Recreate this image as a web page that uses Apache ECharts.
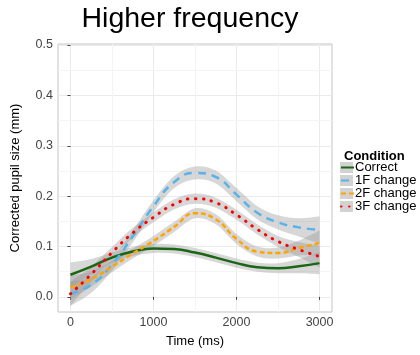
<!DOCTYPE html>
<html>
<head>
<meta charset="utf-8">
<script src="https://cdn.jsdelivr.net/npm/echarts@6/dist/echarts.min.js"></script>
<style>html,body{margin:0;padding:0;background:#fff}#c{width:420px;height:355px}</style>
</head>
<body>
<div id="c"></div>
<script>
// ---- data ----
const time = [0, 250, 500, 750, 1000, 1250, 1500, 1750, 2000, 2250, 2500, 2750, 3000];
const conditions = ['Correct', '1F change', '2F change', '3F change'];
const correctMean = [0.044, 0.060, 0.078, 0.090, 0.096, 0.095, 0.088, 0.078, 0.067, 0.059, 0.057, 0.061, 0.067];
const correctSe   = [0.024, 0.015, 0.010, 0.009, 0.009, 0.009, 0.009, 0.009, 0.009, 0.009, 0.010, 0.014, 0.022];
const f1Mean = [0.006, 0.024, 0.064, 0.120, 0.180, 0.228, 0.246, 0.238, 0.203, 0.167, 0.148, 0.138, 0.133];
const f1Se   = [0.024, 0.016, 0.012, 0.012, 0.012, 0.012, 0.013, 0.013, 0.013, 0.013, 0.014, 0.018, 0.027];
const f2Mean = [0.019, 0.035, 0.060, 0.086, 0.111, 0.139, 0.166, 0.154, 0.115, 0.090, 0.087, 0.097, 0.107];
const f2Se   = [0.024, 0.015, 0.011, 0.010, 0.010, 0.010, 0.010, 0.010, 0.010, 0.010, 0.011, 0.015, 0.025];
const f3Mean = [0.006, 0.045, 0.088, 0.127, 0.158, 0.184, 0.195, 0.187, 0.163, 0.134, 0.110, 0.094, 0.080];
const f3Se   = [0.024, 0.015, 0.011, 0.010, 0.010, 0.010, 0.010, 0.010, 0.010, 0.010, 0.011, 0.015, 0.022];
const xTicks = [0, 1000, 2000, 3000];
const yTicks = [0, 0.1, 0.2, 0.3, 0.4, 0.5];
const xMinor = [500, 1500, 2500];
const yMinor = [0.05, 0.15, 0.25, 0.35, 0.45];

const means = [correctMean, f1Mean, f2Mean, f3Mean];
const ses = [correctSe, f1Se, f2Se, f3Se];
const colors = ['#1b6614', '#56B4E9', '#FFA500', '#FF0000'];
const lineTypes = ['solid', [8, 6], [5, 3], [0.5, 7.5]];
const caps = ['butt', 'butt', 'butt', 'round'];
const widths = [2.5, 2.5, 2.5, 3];

// Catmull-Rom -> cubic bezier path segment through pixel points
function crPath(pts, start) {
  let d = start ? 'M' + pts[0][0] + ' ' + pts[0][1] : 'L' + pts[0][0] + ' ' + pts[0][1];
  for (let i = 0; i < pts.length - 1; i++) {
    const p0 = pts[i - 1] || pts[i], p1 = pts[i], p2 = pts[i + 1], p3 = pts[i + 2] || pts[i + 1];
    const c1 = [p1[0] + (p2[0] - p0[0]) / 6, p1[1] + (p2[1] - p0[1]) / 6];
    const c2 = [p2[0] - (p3[0] - p1[0]) / 6, p2[1] - (p3[1] - p1[1]) / 6];
    d += 'C' + c1[0] + ' ' + c1[1] + ' ' + c2[0] + ' ' + c2[1] + ' ' + p2[0] + ' ' + p2[1];
  }
  return d;
}

const series = [];
// minor grid lines (drawn underneath everything)
series.push({
  name: '_grid', type: 'line', data: [], silent: true, z: 0,
  markLine: {
    silent: true, symbol: 'none', label: { show: false }, animation: false, z: 0,
    lineStyle: { color: '#f4f4f4', width: 1, type: 'solid' },
    data: xMinor.map(v => ({ xAxis: v })).concat(yMinor.map(v => ({ yAxis: v })))
  }
});
// confidence bands (custom series, one element per condition)
means.forEach((m, i) => {
  const se = ses[i];
  series.push({
    name: '_band' + i, type: 'custom', silent: true, z: 2, clip: true,
    data: [0],
    renderItem: function (params, api) {
      const upper = time.map((t, k) => api.coord([t, m[k] + se[k]]));
      const lower = time.map((t, k) => api.coord([t, m[k] - se[k]])).reverse();
      const d = crPath(upper, true) + crPath(lower, false) + 'Z';
      return { type: 'path', shape: { pathData: d }, style: { fill: 'rgba(150,150,150,0.38)', stroke: null } };
    }
  });
});
// mean lines
means.forEach((m, i) => {
  series.push({
    name: conditions[i], type: 'line', smooth: true, symbol: 'none', z: 3,
    itemStyle: { color: colors[i] },
    lineStyle: { color: colors[i], width: widths[i], type: lineTypes[i], cap: caps[i] },
    data: time.map((t, k) => [t, m[k]])
  });
});

const chart = echarts.init(document.getElementById('c'), null, { renderer: 'canvas' });
chart.setOption({
  animation: false,
  backgroundColor: '#fff',
  textStyle: { fontFamily: 'Liberation Sans, Arial, sans-serif' },
  title: [
    { text: 'Higher frequency', left: 185, textAlign: 'center', top: 0,
      textStyle: { fontSize: 28.5, fontWeight: 'normal', color: '#000', fontFamily: 'Liberation Sans' } },
    { text: 'Condition', left: 339, top: 145,
      textStyle: { fontSize: 13, fontWeight: 'bold', color: '#000', fontFamily: 'Liberation Sans' } }
  ],
  grid: { left: 58, right: 88, top: 44, bottom: 43, show: true, borderColor: '#c4c4c4', borderWidth: 1, backgroundColor: 'transparent' },
  xAxis: {
    type: 'value', min: -150, max: 3150,
    name: 'Time (ms)', nameLocation: 'middle', nameGap: 23,
    nameTextStyle: { fontSize: 13, color: '#000' },
    axisLine: { show: false },
    axisTick: { show: true, length: 3, inside: false, customValues: xTicks, lineStyle: { color: '#444' } },
    axisLabel: { customValues: xTicks, fontSize: 12.5, color: '#444', margin: 4, formatter: v => String(v) },
    splitLine: { show: true, lineStyle: { color: '#ebebeb', width: 1 } }
  },
  yAxis: {
    type: 'value', min: -0.03, max: 0.502,
    name: 'Corrected pupil size (mm)', nameLocation: 'middle', nameGap: 36,
    nameTextStyle: { fontSize: 13, color: '#000' },
    axisLine: { show: false },
    axisTick: { show: true, length: 3, inside: false, customValues: yTicks, lineStyle: { color: '#444' } },
    axisLabel: { customValues: yTicks, fontSize: 12.5, color: '#444', margin: 5, formatter: v => v.toFixed(1) },
    splitLine: { show: true, lineStyle: { color: '#ebebeb', width: 1 } }
  },
  legend: [
    { // gray key boxes
      data: conditions, orient: 'vertical', left: 340, top: 161, padding: 0, z: 4,
      icon: 'rect', itemWidth: 13, itemHeight: 11, itemGap: 0,
      itemStyle: { color: '#d2d2d2', borderWidth: 0, opacity: 1 },
      formatter: () => ' ',
      textStyle: { fontSize: 13, lineHeight: 12 }
    },
    { // line samples and labels
      data: conditions, orient: 'vertical', left: 340, top: 161, padding: 0, z: 6,
      itemWidth: 13, itemHeight: 12, itemGap: 0,
      itemStyle: { opacity: 0 },
      textStyle: { fontSize: 13, color: '#000', lineHeight: 12, padding: [0, 0, 0, -4] }
    }
  ],
  series: series
});
</script>
</body>
</html>
